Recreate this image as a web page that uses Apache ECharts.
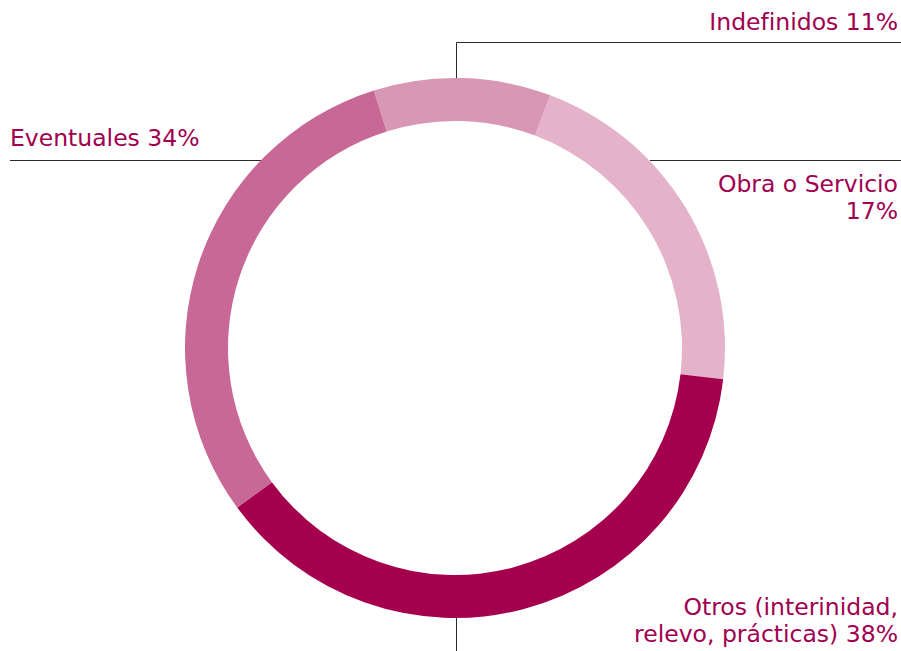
<!DOCTYPE html>
<html lang="es">
<head>
    <meta charset="UTF-8">
    <title>Tipos de contrato</title>
    <script src="https://cdn.jsdelivr.net/npm/echarts@6/dist/echarts.min.js"></script>
    <style>
        html, body { margin: 0; padding: 0; background: #fff; }
        #main { width: 901px; height: 651px; }
    </style>
</head>
<body>
<div id="main"></div>
<script type="text/javascript">
    // categorias en orden horario desde arriba
    let names = ['Indefinidos', 'Obra o Servicio', 'Otros (interinidad,\nrelevo, prácticas)', 'Eventuales'];
    // porcentaje que dice la etiqueta
    let pcts = [11, 17, 38, 34];
    // peso del sector tal como se ve dibujado
    let values = [10.6, 21.1, 38.1, 30.2];
    let colors = ['#d997b6', '#e5b3c9', '#a5004d', '#c86896'];
    let seps = [' ', '\n', ' ', ' '];

    // donde va cada etiqueta y su linea
    let labelPos = [
        { x: 898, y: 22, align: 'right', line: [[456.5, 78], [456.5, 42.5], [901, 42.5]] },
        { x: 898, y: 197, align: 'right', line: [[650, 160.5], [775, 160.5], [901, 160.5]] },
        { x: 898, y: 620, align: 'right', line: [[456.5, 618], [456.5, 640], [456.5, 651]] },
        { x: 10, y: 138, align: 'left', line: [[262, 160.5], [140, 160.5], [10, 160.5]] }
    ];

    let myChart = echarts.init(document.getElementById('main'), null, { renderer: 'svg' });

    let pieData = names.map(function (n, i) {
        return { name: n, value: values[i], itemStyle: { color: colors[i] } };
    });

    let option = {
        animation: false,
        series: [{
            type: 'pie',
            center: [455, 348],
            radius: [227, 270],
            startAngle: 107.5,
            clockwise: true,
            silent: true,
            data: pieData,
            label: {
                show: true,
                color: '#a0004f',
                fontFamily: 'DejaVu Sans',
                fontSize: 23.5,
                lineHeight: 27,
                overflow: 'none',
                formatter: function (p) {
                    return p.name + seps[p.dataIndex] + pcts[p.dataIndex] + '%';
                }
            },
            labelLine: {
                show: true,
                lineStyle: { color: '#2a2a2a', width: 1 }
            },
            labelLayout: function (params) {
                let pos = labelPos[params.dataIndex];
                return {
                    x: pos.x,
                    y: pos.y,
                    align: pos.align,
                    verticalAlign: 'middle',
                    labelLinePoints: pos.line
                };
            }
        }]
    };
    myChart.setOption(option);
</script>
</body>
</html>
